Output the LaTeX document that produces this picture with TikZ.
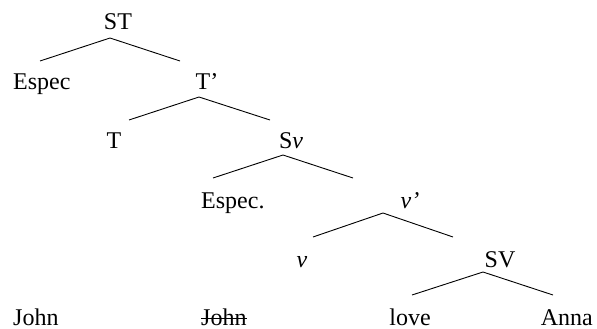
\documentclass[tikz,border=0pt]{standalone}
\usepackage{fontspec}
\setmainfont{Liberation Serif}
\begin{document}
\begin{tikzpicture}[x=1pt,y=-1pt,
  lab/.style={anchor=base,inner sep=0pt,font=\fontsize{24}{28}\selectfont},
  branch/.style={line width=0.9pt}]
\useasboundingbox (0,0) rectangle (597,329);
% labels
\node[lab] (st) at (118,30) {ST};
\node[lab,anchor=base west] (espec1) at (13,89) {Espec};
\node[lab] (tbar) at (207,89) {T’};
\node[lab] (t) at (114,148) {T};
\node[lab] (sv) at (291,148) {S\textit{v}};
\node[lab,anchor=base west] (espec2) at (201,208) {Espec.};
\node[lab] (vbar) at (410,208) {\textit{v’}};
\node[lab] (v) at (302,267) {\textit{v}};
\node[lab] (svp) at (500,267) {SV};
\node[lab,anchor=base west] (john) at (13,325) {John};
\node[lab,anchor=base west] (john2) at (201,325) {John};
\node[lab] (love) at (410,325) {love};
\node[lab,anchor=base east] (anna) at (593,325) {Anna};
% strike
\draw[line width=0.9pt] ([yshift=7pt]john2.base west) -- ([yshift=7pt]john2.base east);
% branch points
\coordinate (a1) at (110,38); \coordinate (l1) at (40,61); \coordinate (r1) at (180,61);
\coordinate (a2) at (199,97); \coordinate (l2) at (129,120); \coordinate (r2) at (270,120);
\coordinate (a3) at (283,155); \coordinate (l3) at (213,178); \coordinate (r3) at (353,178);
\coordinate (a4) at (383,213); \coordinate (l4) at (313,237); \coordinate (r4) at (453,237);
\coordinate (a5) at (483,272); \coordinate (l5) at (412,295); \coordinate (r5) at (553,295);
\draw[branch] (l1) -- (a1) -- (r1);
\draw[branch] (l2) -- (a2) -- (r2);
\draw[branch] (l3) -- (a3) -- (r3);
\draw[branch] (l4) -- (a4) -- (r4);
\draw[branch] (l5) -- (a5) -- (r5);
\end{tikzpicture}
\end{document}
